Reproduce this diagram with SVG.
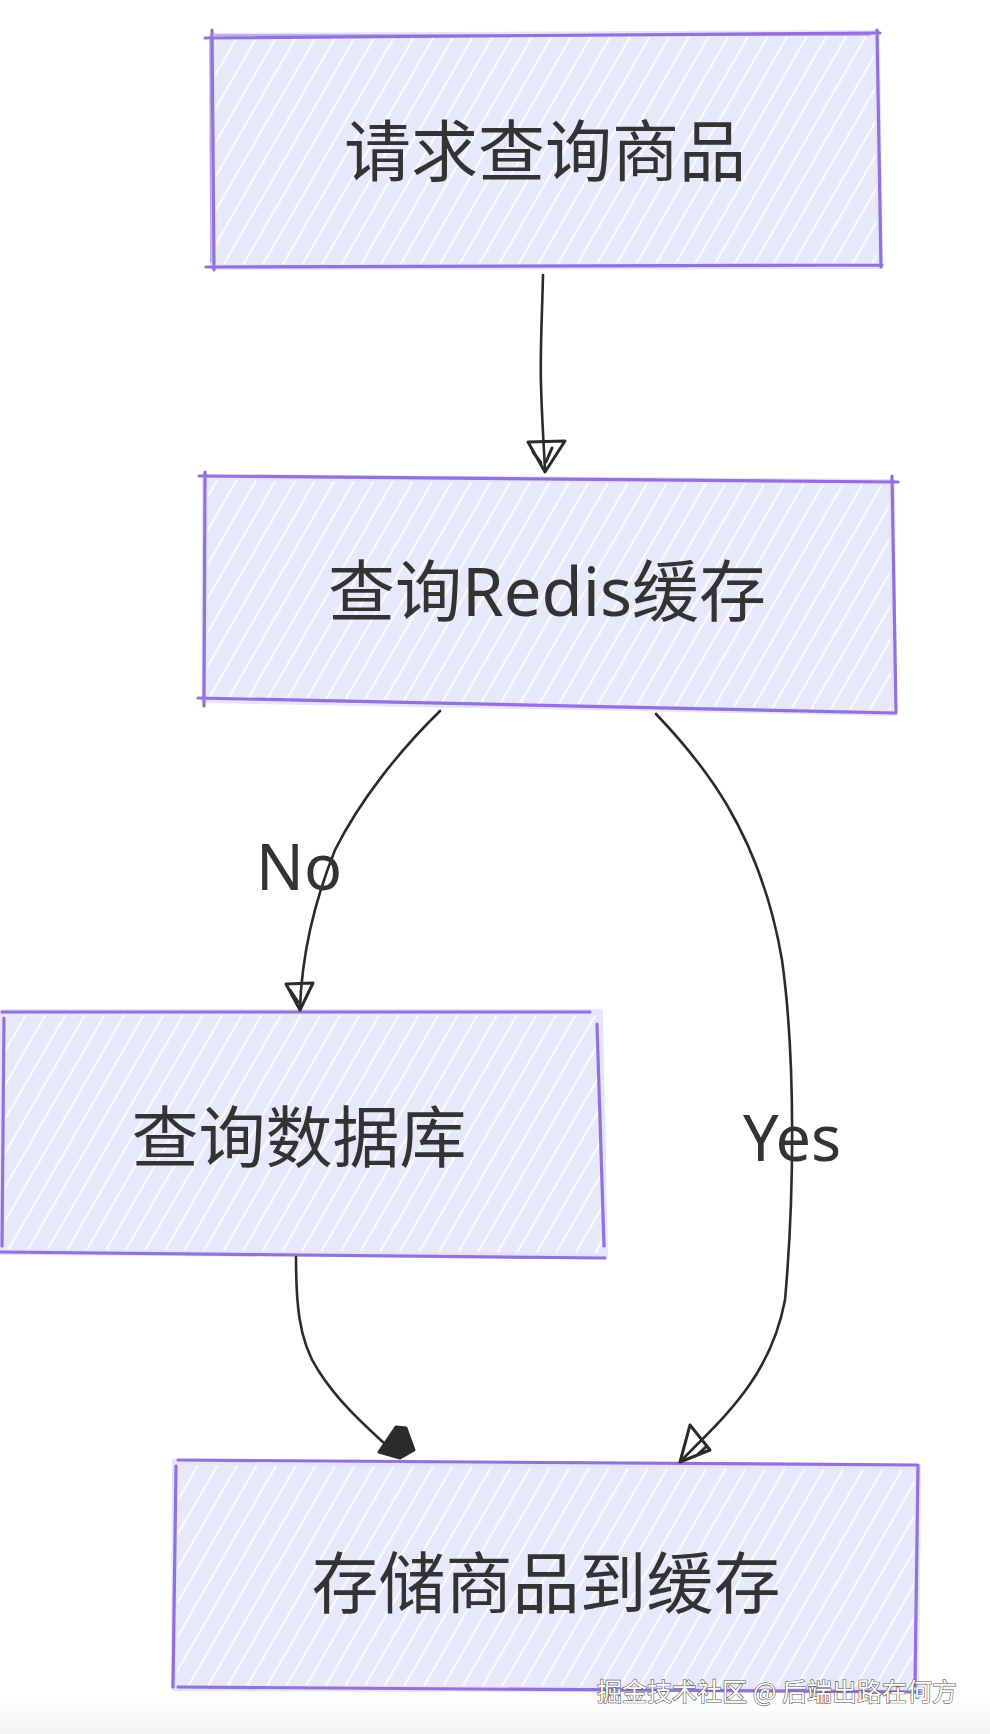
<svg xmlns="http://www.w3.org/2000/svg" width="990" height="1734" viewBox="0 0 990 1734">
<defs>
<pattern id="hach" width="17" height="17" patternUnits="userSpaceOnUse" patternTransform="rotate(30)">
<rect width="17" height="17" fill="#e8e8fc"/>
<line x1="3" y1="0" x2="3" y2="17" stroke="#fafaff" stroke-width="2.2"/>
</pattern>
<linearGradient id="band" x1="0" y1="0" x2="0" y2="1">
<stop offset="0" stop-color="#ffffff"/>
<stop offset="1" stop-color="#f3f3f3"/>
</linearGradient>
<style>
.fill{fill:url(#hach);stroke:#e4e4fb;stroke-width:6;stroke-linejoin:round}
.edge{fill:none;stroke:#9370DB;stroke-width:3.2;stroke-linecap:round}
.edge2{fill:none;stroke:#9370DB;stroke-width:1.4;stroke-linecap:round;opacity:.6}
.lbl{font-family:"Noto Sans","Noto Sans CJK SC",sans-serif;font-size:67px;fill:#333333;text-anchor:middle;dominant-baseline:central}
.elbl{font-family:"Noto Sans","Noto Sans CJK SC",sans-serif;font-size:63px;fill:#333333;text-anchor:middle;dominant-baseline:central}
.conn{fill:none;stroke:#2b2b2b;stroke-width:2.6;stroke-linecap:round;stroke-linejoin:round}
.head{fill:none;stroke:#2b2b2b;stroke-width:3;stroke-linejoin:round;stroke-linecap:round}
.headf{fill:#2b2b2b;stroke:#2b2b2b;stroke-width:3;stroke-linejoin:round}
</style>
</defs>
<rect width="990" height="1734" fill="#ffffff"/>
<rect x="0" y="1700" width="990" height="34" fill="url(#band)"/>

<g id="node-request">
<polygon class="fill" points="212,36 877,33 880,266 213,267"/>
<path class="edge" d="M205,38 L880,33 M877,30 L881,267 M206,267 L882,265 M212,30 L214,270"/>
<path class="edge2" d="M215,35 L870,35 M210,40 L211,262"/>
<text class="lbl" x="545" y="150">请求查询商品</text>
</g>

<g id="node-redis">
<polygon class="fill" points="205,477 892,482 894,713 204,700"/>
<path class="edge" d="M199,476 L898,482 M892,476 L896,711 M198,698 L896,713 M205,472 L204,706"/>
<text class="lbl" x="547" y="590">查询Redis缓存</text>
</g>

<g id="node-db">
<polygon class="fill" points="2,1012 600,1012 605,1256 2,1252"/>
<path class="edge" d="M2,1012 L590,1012 M597,1024 L604,1246 M0,1252 L605,1258 M4,1018 L2,1246"/>
<text class="lbl" x="299" y="1136">查询数据库</text>
</g>

<g id="node-store">
<polygon class="fill" points="175,1462 918,1467 916,1690 174,1688"/>
<path class="edge" d="M178,1460 L918,1465 M918,1466 L915,1686 M178,1687 L920,1692 M176,1466 L173,1687"/>
<text class="lbl" x="546" y="1582">存储商品到缓存</text>
</g>

<g id="connectors">
<path class="conn" d="M543,275 C542,320 540,350 541,385 C542,420 544,450 545,470"/>
<path class="head" d="M545,472 L565,441 L528,442 Z M533,452 L541,463 M552,448 L546,462"/>

<path class="conn" d="M440,711 C400,750 360,800 335,850 C315,900 302,950 300,1008"/>
<path class="head" d="M300,1010 L313,983 L286,984 Z M290,990 L298,1002"/>
<text class="elbl" x="299" y="865">No</text>

<path class="conn" d="M656,714 C700,760 760,830 782,960 C796,1060 794,1200 785,1300 C770,1380 720,1420 682,1460"/>
<path class="head" d="M680,1462 L690,1425 L710,1450 Z M697,1455 L707,1446"/>
<text class="elbl" x="792" y="1136">Yes</text>

<path class="conn" d="M296,1257 C296,1300 298,1340 318,1370 C340,1405 370,1430 398,1456"/>
<path class="headf" d="M400,1458 L379,1452 L396,1427 L406,1428 L414,1450 Z"/>
</g>

<text x="777" y="1690" font-family="'Noto Sans CJK SC',sans-serif" font-size="25" fill="#ffffff" stroke="#555555" stroke-width="1.2" paint-order="stroke" text-anchor="middle" dominant-baseline="central">掘金技术社区 @ 后端出路在何方</text>
</svg>
